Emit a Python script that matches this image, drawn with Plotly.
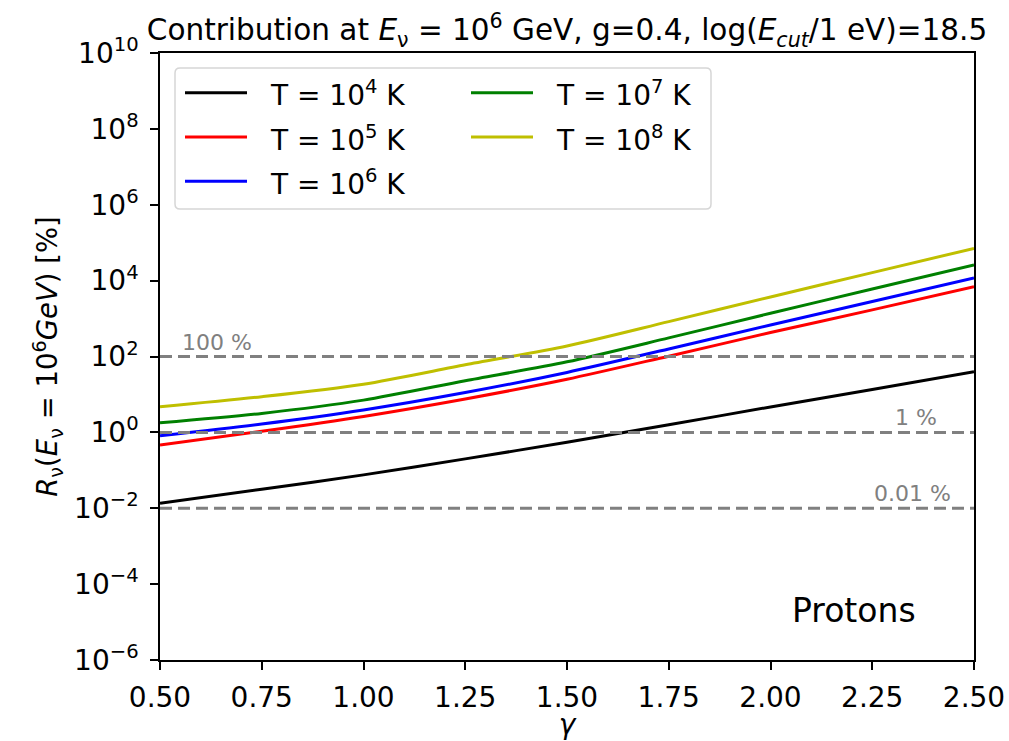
import math
import plotly.graph_objects as go

# ---------------- data ----------------
gamma = [0.5, 0.75, 1.0, 1.25, 1.5, 1.75, 2.0, 2.25, 2.5]

temp_exponents = [4, 5, 6, 7, 8]
series_colors = ["#000000", "#ff0000", "#0000ff", "#008000", "#bfbf00"]

r_T1e4 = [0.0135, 0.0316, 0.0759, 0.200, 0.550, 1.585, 4.68, 13.5, 39.8]
r_T1e5 = [0.468, 1.07, 2.63, 7.59, 25.1, 102, 427, 1698, 6918]
r_T1e6 = [0.813, 1.66, 3.89, 11.2, 38.0, 158, 676, 2818, 11750]
r_T1e7 = [1.78, 3.16, 7.08, 22.9, 72.4, 309, 1380, 6026, 25700]
r_T1e8 = [4.73, 8.71, 18.6, 60.3, 190, 832, 3715, 16220, 70800]
series_values = [r_T1e4, r_T1e5, r_T1e6, r_T1e7, r_T1e8]

ref_levels = [100, 1, 0.01]
ref_labels = ["100 %", "1 %", "0.01 %"]
ref_label_x = [0.55, 2.3, 2.25]

x_ticks = [0.5, 0.75, 1.0, 1.25, 1.5, 1.75, 2.0, 2.25, 2.5]
y_tick_exponents = [-6, -4, -2, 0, 2, 4, 6, 8, 10]

title_text = ("Contribution at <i>E</i><sub>ν</sub> = 10<sup>6</sup> GeV, g=0.4, "
              "log(<i>E</i><sub><i>cut</i></sub>/1 eV)=18.5")
y_title = "<i>R</i><sub>ν</sub>(<i>E</i><sub>ν</sub> = 10<sup>6</sup><i>GeV</i>) [%]"
x_title = "<i>γ</i>"
panel_label = "Protons"

# ---------------- layout geometry ----------------
W, H = 1009, 741
L, R, T, B = 160, 35, 53, 81
PW, PH = W - L - R, H - T - B
FONT = "DejaVu Sans"


def px_x(px):
    return (px - L) / PW


def px_y(py):
    return (H - B - py) / PH


fig = go.Figure()

for exp_, col, vals in zip(temp_exponents, series_colors, series_values):
    fig.add_trace(go.Scatter(
        x=gamma, y=vals, mode="lines",
        line=dict(color=col, width=3, shape="spline", smoothing=0.8),
        name=f"T = 10^{exp_} K", hoverinfo="skip"))

for lvl in ref_levels:
    fig.add_trace(go.Scatter(
        x=[x_ticks[0], x_ticks[-1]], y=[lvl, lvl], mode="lines",
        line=dict(color="#808080", width=3, dash="12px,6px"),
        hoverinfo="skip", showlegend=False))

annotations = []
for lvl, lab, lx in zip(ref_levels, ref_labels, ref_label_x):
    annotations.append(dict(
        x=lx, y=math.log10(lvl), xref="x", yref="y", text=lab,
        showarrow=False, xanchor="left", yanchor="bottom", yshift=0,
        font=dict(family=FONT, size=22, color="#808080")))

annotations.append(dict(
    x=px_x(790), y=px_y(610), xref="paper", yref="paper", text=panel_label,
    showarrow=False, xanchor="left", yanchor="middle",
    font=dict(family=FONT, size=33, color="black")))

# ---------------- manual legend ----------------
shapes = []
bx0, bx1, by0, by1 = px_x(175), px_x(711), px_y(209), px_y(68)
rx, ry = 5 / PW, 5 / PH
path = (f"M {bx0+rx},{by0} L {bx1-rx},{by0} Q {bx1},{by0} {bx1},{by0+ry} "
        f"L {bx1},{by1-ry} Q {bx1},{by1} {bx1-rx},{by1} "
        f"L {bx0+rx},{by1} Q {bx0},{by1} {bx0},{by1-ry} "
        f"L {bx0},{by0+ry} Q {bx0},{by0} {bx0+rx},{by0} Z")
shapes.append(dict(type="path", path=path, xref="paper", yref="paper",
                   line=dict(color="#d6d6d6", width=1.5),
                   fillcolor="rgba(255,255,255,0.85)", layer="above"))

col_line_x0 = [185, 471]
col_line_len = 62
col_text_x = [268, 554]
row_y0, row_dy = 92.7, 44.3
for i, (exp_, col) in enumerate(zip(temp_exponents, series_colors)):
    c, r = i // 3, i % 3
    yy = row_y0 + r * row_dy
    shapes.append(dict(type="line", xref="paper", yref="paper",
                       x0=px_x(col_line_x0[c]), x1=px_x(col_line_x0[c] + col_line_len),
                       y0=px_y(yy), y1=px_y(yy),
                       line=dict(color=col, width=3), layer="above"))
    annotations.append(dict(
        x=px_x(col_text_x[c]), y=px_y(yy), xref="paper", yref="paper",
        text=f"T = 10<sup>{exp_}</sup> K", showarrow=False,
        xanchor="left", yanchor="middle", yshift=-1,
        font=dict(family=FONT, size=28, color="black")))

fig.update_layout(
    width=W, height=H,
    margin=dict(l=L, r=R, t=T, b=B, autoexpand=False),
    plot_bgcolor="white", paper_bgcolor="white",
    showlegend=False,
    font=dict(family=FONT, color="black"),
    title=dict(text=title_text, x=(L + PW / 2) / W, xanchor="center",
               y=1 - 30 / H, yanchor="middle", yref="container",
               font=dict(family=FONT, size=29.5, color="black")),
    shapes=shapes, annotations=annotations,
)

fig.update_xaxes(
    range=[x_ticks[0], x_ticks[-1]], tickvals=x_ticks,
    ticktext=[f"{v:.2f}" for v in x_ticks], automargin=False,
    showline=True, linecolor="black", linewidth=1.5, mirror=True,
    ticks="outside", ticklen=8, tickwidth=1.5, tickcolor="black",
    showgrid=False, zeroline=False, ticklabelstandoff=4,
    tickfont=dict(family=FONT, size=28, color="black"),
    title=dict(text=x_title, standoff=14, font=dict(family=FONT, size=28, color="black")))

fig.update_yaxes(
    type="log", range=[y_tick_exponents[0], y_tick_exponents[-1]], automargin=False,
    tickvals=[10.0 ** e for e in y_tick_exponents],
    ticktext=[f"10<sup>{str(e).replace('-', '−')}</sup>" for e in y_tick_exponents],
    showline=True, linecolor="black", linewidth=1.5, mirror=True,
    ticks="outside", ticklen=8, tickwidth=1.5, tickcolor="black",
    showgrid=False, zeroline=False, ticklabelstandoff=6,
    tickfont=dict(family=FONT, size=28, color="black"),
    title=dict(text=y_title, standoff=8, font=dict(family=FONT, size=27.5, color="black")))

fig.write_html("out.html", config={"displayModeBar": False},
               post_script="document.body.style.margin='0px';")
